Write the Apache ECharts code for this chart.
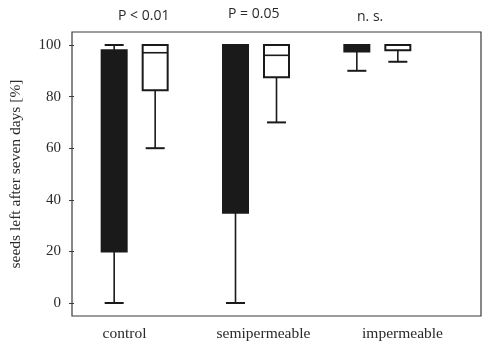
<!DOCTYPE html>
<html><head><meta charset="utf-8">
<script src="https://cdn.jsdelivr.net/npm/echarts@6/dist/echarts.min.js"></script>
<style>html,body{margin:0;padding:0;background:#fff}#c{width:484px;height:342px}</style>
</head><body><div id="c"></div>
<script>
const categories = ['control', 'semipermeable', 'impermeable'];
// [min, q1, median, q3, max]
const blackBoxes = [
  [0, 20, 70, 98, 100],
  [0, 35, 70, 100, 100],
  [90, 97.5, 99, 100, 100]
];
const whiteBoxes = [
  [60, 82.5, 97, 100, 100],
  [70, 87.5, 96, 100, 100],
  [93.5, 98, 100, 100, 100]
];
const pLabels = ['P < 0.01', 'P = 0.05', 'n. s.'];
const yTicks = { min: 0, max: 100, interval: 20 };
const yName = 'seeds left after seven days [%]';

const serif = '"Liberation Serif", "DejaVu Serif", serif';
const ink = '#1a1a1a';

function boxRenderer(offset, filled) {
  return function (params, api) {
    const idx = api.value(0);
    const cx = api.coord([idx, 0])[0] + offset;
    const yMin = api.coord([idx, api.value(1)])[1];
    const yQ1 = api.coord([idx, api.value(2)])[1];
    const yMed = api.coord([idx, api.value(3)])[1];
    const yQ3 = api.coord([idx, api.value(4)])[1];
    const yMax = api.coord([idx, api.value(5)])[1];
    const bw = 25, cw = 19;
    const lineStyle = { stroke: ink, lineWidth: 1.6 };
    const children = [
      { type: 'line', shape: { x1: cx, y1: yQ1, x2: cx, y2: yMin }, style: lineStyle },
      { type: 'line', shape: { x1: cx - cw / 2, y1: yMin, x2: cx + cw / 2, y2: yMin }, style: { stroke: ink, lineWidth: 2 } },
      { type: 'line', shape: { x1: cx, y1: yQ3, x2: cx, y2: yMax }, style: lineStyle },
      { type: 'line', shape: { x1: cx - cw / 2, y1: yMax, x2: cx + cw / 2, y2: yMax }, style: { stroke: ink, lineWidth: 2 } },
      { type: 'rect', shape: { x: cx - bw / 2, y: yQ3, width: bw, height: Math.max(yQ1 - yQ3, 1) },
        style: { fill: filled ? ink : '#fff', stroke: ink, lineWidth: 2 } },
      { type: 'line', shape: { x1: cx - bw / 2, y1: yMed, x2: cx + bw / 2, y2: yMed }, style: { stroke: ink, lineWidth: 1.6 } }
    ];
    return { type: 'group', children: children };
  };
}

const chart = echarts.init(document.getElementById('c'), null, { renderer: 'canvas' });
chart.setOption({
  animation: false,
  backgroundColor: '#fff',
  grid: [
    { left: 72, right: 3, top: 32, bottom: 26, show: true, borderColor: '#3a3a3a', borderWidth: 1.2, backgroundColor: 'transparent' },
    { left: 72, right: 46, top: 45, bottom: 39 },
    { left: 55, right: 12, top: 32, bottom: 26 }
  ],
  xAxis: [
    { gridIndex: 0, type: 'value', show: false },
    { gridIndex: 1, type: 'category', data: categories, show: false },
    { gridIndex: 2, type: 'category', data: categories, boundaryGap: true,
      axisLine: { show: false }, axisTick: { show: false },
      axisLabel: { margin: 16, fontFamily: serif, fontSize: 15.5, color: '#2a2a2a' } }
  ],
  yAxis: [
    { gridIndex: 0, type: 'value', show: false },
    { gridIndex: 1, type: 'value', min: yTicks.min, max: yTicks.max, interval: yTicks.interval,
      axisLine: { show: false },
      axisTick: { show: true, length: 5, lineStyle: { color: '#3a3a3a', width: 1 } },
      axisLabel: { margin: 13, fontFamily: serif, fontSize: 15, color: '#2a2a2a' },
      splitLine: { show: false },
      name: yName, nameLocation: 'middle', nameRotate: 90, nameGap: 50,
      nameTextStyle: { fontFamily: serif, fontSize: 15.5, color: '#2a2a2a' } },
    { gridIndex: 2, type: 'value', show: false }
  ],
  graphic: [
    { type: 'text', left: 118, top: 9, style: { text: pLabels[0], font: '14px "Open Sans", sans-serif', fill: '#2a2a2a' } },
    { type: 'text', left: 228, top: 7, style: { text: pLabels[1], font: '14px "Open Sans", sans-serif', fill: '#2a2a2a' } },
    { type: 'text', left: 357, top: 10, style: { text: pLabels[2], font: '14px "Open Sans", sans-serif', fill: '#2a2a2a' } }
  ],
  series: [
    { type: 'custom', xAxisIndex: 1, yAxisIndex: 1, renderItem: boxRenderer(-20.5, true),
      encode: { x: 0, y: [1, 2, 3, 4, 5] },
      data: blackBoxes.map((b, i) => [i].concat(b)) },
    { type: 'custom', xAxisIndex: 1, yAxisIndex: 1, renderItem: boxRenderer(20.5, false),
      encode: { x: 0, y: [1, 2, 3, 4, 5] },
      data: whiteBoxes.map((b, i) => [i].concat(b)) }
  ]
});
</script></body></html>
